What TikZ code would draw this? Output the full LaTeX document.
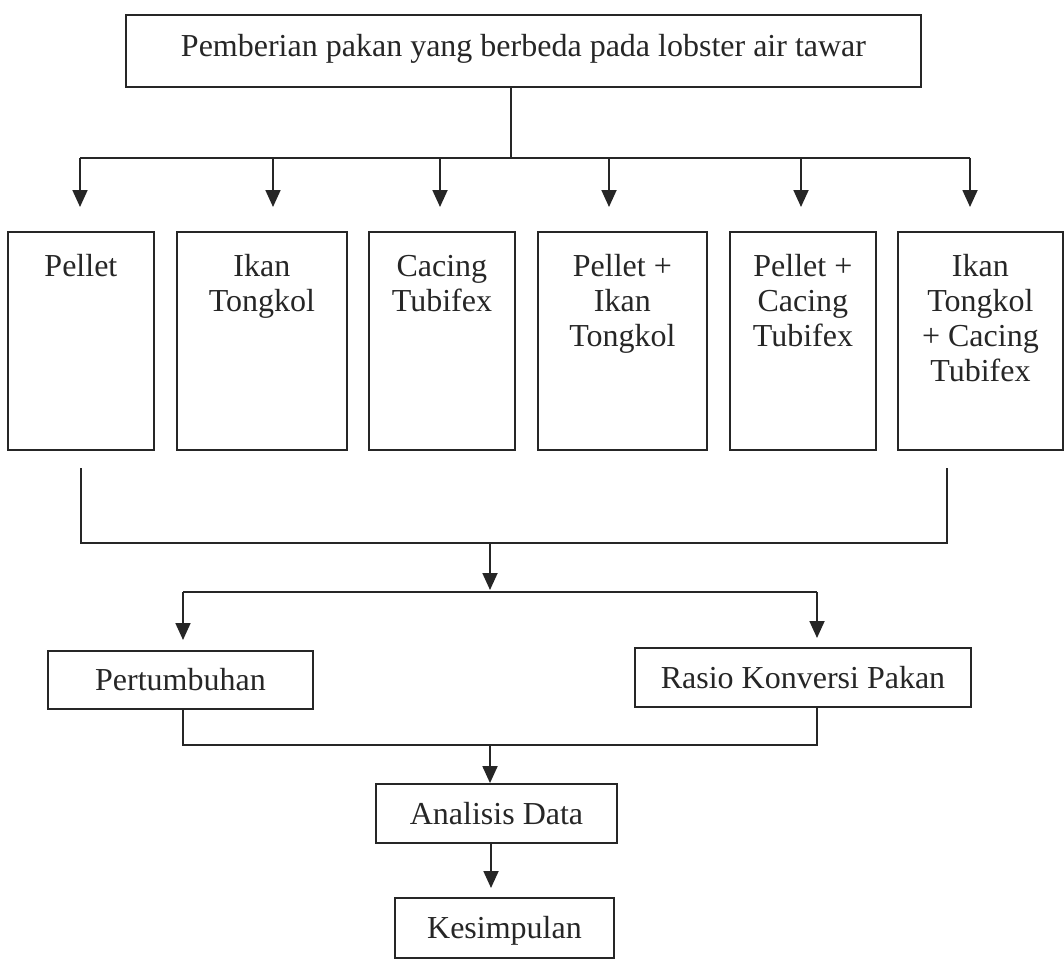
\documentclass[tikz,border=0pt]{standalone}
\usepackage{fontspec}
\setmainfont{Liberation Serif}
\usetikzlibrary{arrows.meta}
\definecolor{ink}{RGB}{38,38,38}
\newcommand{\colbox}[2]{\parbox[t][218pt][t]{#1}{\centering\rule{0pt}{45pt}#2}}
\begin{document}
\begin{tikzpicture}[x=1pt,y=-1pt,
  every node/.style={font=\fontsize{32}{35}\selectfont, text=ink},
  boxline/.style={draw=ink, line width=1.8pt},
  onebox/.style={boxline, inner sep=0pt, text height=21pt, text depth=0pt, align=center},
  colnode/.style={boxline, inner sep=0pt, anchor=north west},
  conn/.style={draw=ink, line width=1.8pt},
  arr/.style={conn, -{Triangle[length=17pt,width=15pt]}}]
\useasboundingbox (0,0) rectangle (1064,960);

% title
\node[onebox, minimum width=795pt, minimum height=72pt, text depth=9pt] (title) at (523.5,51) {Pemberian pakan yang berbeda pada lobster air tawar};

% six treatment boxes
\node[colnode] (b1) at (7,231)   {\colbox{146pt}{Pellet}};
\node[colnode] (b2) at (176,231) {\colbox{170pt}{Ikan\\Tongkol}};
\node[colnode] (b3) at (368,231) {\colbox{146pt}{Cacing\\Tubifex}};
\node[colnode] (b4) at (537,231) {\colbox{169pt}{Pellet +\\Ikan\\Tongkol}};
\node[colnode] (b5) at (729,231) {\colbox{146pt}{Pellet +\\Cacing\\Tubifex}};
\node[colnode] (b6) at (897,231) {\colbox{165pt}{Ikan\\Tongkol\\+ Cacing\\Tubifex}};

% result boxes
\node[onebox, minimum width=265pt, minimum height=58pt] (pert) at (180.5,680) {Pertumbuhan};
\node[onebox, minimum width=336pt, minimum height=59pt] (rasio) at (803,677.5) {Rasio Konversi Pakan};
\node[onebox, minimum width=241pt, minimum height=59pt] (anal) at (496.5,813.5) {Analisis Data};
\node[onebox, minimum width=219pt, minimum height=60pt] (kes) at (504.5,928) {Kesimpulan};

% coordinates for connectors
\coordinate (hub) at (511,158);
\coordinate (hl) at (80,158);
\coordinate (hr) at (970,158);
\coordinate (a1) at (80,207);
\coordinate (a2) at (273,207);
\coordinate (a3) at (440,207);
\coordinate (a4) at (609,207);
\coordinate (a5) at (801,207);
\coordinate (a6) at (970,207);

\coordinate (bl) at (81,468);
\coordinate (brr) at (947,468);
\coordinate (bj) at (490,543);
\coordinate (bjt) at (490,590);
\coordinate (sl) at (183,592);
\coordinate (sr) at (817,592);
\coordinate (sltip) at (183,640);
\coordinate (srtip) at (817,638);
\coordinate (lj) at (490,745);
\coordinate (kt) at (491,888);

% title to split line
\path[conn] (title.south -| hub) -- (hub);
\path[conn] (hl) -- (hr);
\foreach \t in {a1,a2,a3,a4,a5,a6}
  \path[arr] (\t |- hl) -- (\t);

% bracket under boxes
\path[conn] (bl) -- (bl |- bj) -- (brr |- bj) -- (brr);
\path[arr] (bj) -- (bjt);
\path[conn] (sl) -- (sr);
\path[arr] (sl) -- (sltip);
\path[arr] (sr) -- (srtip);

% lower bracket
\path[conn] (pert.south -| sl) -- (sl |- lj) -- (sr |- lj) -- (rasio.south -| sr);
\path[arr] (lj) -- (anal.north -| lj);
\path[arr] (anal.south -| kt) -- (kt);
\end{tikzpicture}
\end{document}
